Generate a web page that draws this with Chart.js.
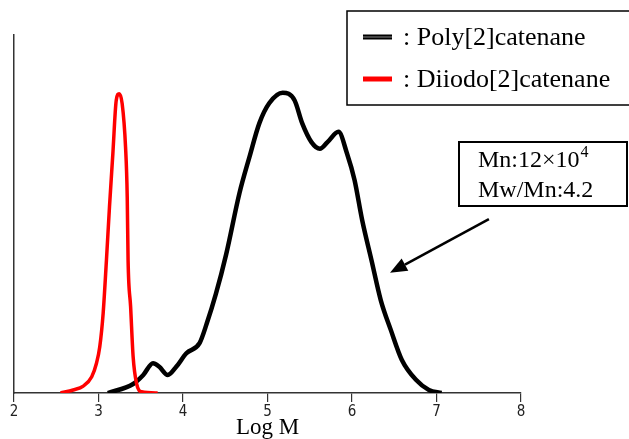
<!DOCTYPE html>
<html lang="en">
<head>
    <meta charset="UTF-8">
    <script src="https://cdn.jsdelivr.net/npm/chart.js@4.4.1/dist/chart.umd.min.js"></script>
    <title>GPC</title>
    <style>
        body { margin: 0; background: #ffffff; }
        .chart-container { position: relative; width: 629px; height: 439px; }
    </style>
</head>
<body>
    <div class="chart-container">
        <canvas id="myChart"></canvas>
    </div>

    <script>
        // x ticks (Log M)
        const xTicks = [2, 3, 4, 5, 6, 7, 8];

        // Poly[2]catenane trace
        const polyLogM = [3.11, 3.41, 3.53, 3.645, 3.72, 3.82, 3.92, 4.04, 4.196, 4.28, 4.39, 4.51, 4.668, 4.786, 4.904,
            5.02, 5.18, 5.32, 5.41, 5.52, 5.62, 5.71, 5.84, 5.94, 6.03, 6.12, 6.23, 6.34, 6.46, 6.59, 6.76, 6.91, 7.06];
        const polyHeight = [0.0, 0.03, 0.06, 0.099, 0.087, 0.06, 0.087, 0.132, 0.166, 0.23, 0.33, 0.46, 0.664, 0.784, 0.897,
            0.963, 0.998, 0.973, 0.897, 0.834, 0.812, 0.834, 0.868, 0.797, 0.708, 0.575, 0.442, 0.309, 0.209, 0.110, 0.043, 0.010, 0.0];

        // Diiodo[2]catenane trace
        const diiodoLogM = [2.55, 2.70, 2.82, 2.92, 2.976, 3.015, 3.055, 3.094, 3.13, 3.17, 3.21, 3.245, 3.28, 3.32, 3.34,
            3.35, 3.38, 3.41, 3.45, 3.51, 3.70];
        const diiodoHeight = [0.0, 0.01, 0.023, 0.054, 0.099, 0.154, 0.265, 0.442, 0.619, 0.796, 0.973, 0.995, 0.962, 0.818, 0.652,
            0.442, 0.287, 0.12, 0.032, 0.004, 0.0];

        const seriesNames = ['Poly[2]catenane', 'Diiodo[2]catenane'];
        const noteLines = ['Mn:12\u00d710', 'Mw/Mn:4.2'];

        const toPoints = (xs, ys) => xs.map((x, i) => ({ x: x, y: ys[i] }));

        const data = {
            datasets: [{
                label: seriesNames[0],
                data: toPoints(polyLogM, polyHeight),
                borderColor: '#000000',
                backgroundColor: '#000000',
                borderWidth: 4.5,
                pointRadius: 0,
                tension: 0.4,
                cubicInterpolationMode: 'monotone',
                order: 1
            },
            {
                label: seriesNames[1],
                data: toPoints(diiodoLogM, diiodoHeight),
                borderColor: '#ff0000',
                backgroundColor: '#ff0000',
                borderWidth: 3.5,
                pointRadius: 0,
                tension: 0.3,
                cubicInterpolationMode: 'monotone',
                order: 0
            }]
        };

        // legend box, note box and arrow
        const decorations = {
            id: 'decorations',
            afterDraw(chart) {
                const ctx = chart.ctx;
                const xs = chart.scales.x, ys = chart.scales.y;
                ctx.save();

                // legend
                ctx.strokeStyle = '#000';
                ctx.lineWidth = 1.5;
                ctx.strokeRect(347, 11, 300, 94);
                ctx.lineCap = 'butt';
                ctx.lineWidth = 5;
                ctx.strokeStyle = '#000';
                ctx.beginPath(); ctx.moveTo(363, 37); ctx.lineTo(392, 37); ctx.stroke();
                ctx.lineWidth = 1;
                ctx.strokeStyle = '#888';
                ctx.beginPath(); ctx.moveTo(363, 37); ctx.lineTo(392, 37); ctx.stroke();
                ctx.lineWidth = 5;
                ctx.strokeStyle = '#ff0000';
                ctx.beginPath(); ctx.moveTo(363, 79); ctx.lineTo(392, 79); ctx.stroke();

                ctx.fillStyle = '#000';
                ctx.font = '26px "Liberation Serif", "Times New Roman", serif';
                ctx.textBaseline = 'alphabetic';
                ctx.fillText(': ' + chart.data.datasets[0].label, 403, 45);
                ctx.fillText(': ' + chart.data.datasets[1].label, 403, 87);

                // note box
                ctx.lineWidth = 2;
                ctx.strokeStyle = '#000';
                ctx.strokeRect(459, 142, 168, 64);
                ctx.font = '24px "Liberation Serif", "Times New Roman", serif';
                ctx.fillText(noteLines[0], 478, 167);
                const w = ctx.measureText(noteLines[0]).width;
                ctx.font = '16px "Liberation Serif", "Times New Roman", serif';
                ctx.fillText('4', 478 + w + 1, 157);
                ctx.font = '24px "Liberation Serif", "Times New Roman", serif';
                ctx.fillText(noteLines[1], 478, 197);

                // arrow pointing at the curve
                const tx = xs.getPixelForValue(6.45), ty = ys.getPixelForValue(0.40);
                const sx = xs.getPixelForValue(7.62), sy = ys.getPixelForValue(0.578);
                const ang = Math.atan2(ty - sy, tx - sx);
                const hl = 17, hw = 7;
                const bx = tx - hl * Math.cos(ang), by = ty - hl * Math.sin(ang);
                ctx.lineWidth = 2.5;
                ctx.beginPath(); ctx.moveTo(sx, sy); ctx.lineTo(bx, by); ctx.stroke();
                ctx.beginPath();
                ctx.moveTo(tx, ty);
                ctx.lineTo(bx + hw * Math.sin(ang), by - hw * Math.cos(ang));
                ctx.lineTo(bx - hw * Math.sin(ang), by + hw * Math.cos(ang));
                ctx.closePath();
                ctx.fill();

                ctx.restore();
            }
        };

        const options = {
            responsive: true,
            maintainAspectRatio: false,
            animation: false,
            layout: {
                padding: { left: 14, right: 108, top: 35, bottom: 0 }
            },
            scales: {
                x: {
                    type: 'linear',
                    min: xTicks[0],
                    max: xTicks[xTicks.length - 1],
                    afterBuildTicks: function(scale) {
                        scale.ticks = xTicks.map(v => ({ value: v }));
                    },
                    afterFit: function(scale) { scale.height = 46; },
                    grid: {
                        display: true,
                        drawOnChartArea: false,
                        drawTicks: true,
                        tickLength: 9,
                        color: '#333',
                        lineWidth: 1.2
                    },
                    border: { display: true, color: '#333', width: 1.5 },
                    ticks: {
                        color: '#222',
                        padding: 1,
                        maxRotation: 0,
                        font: { family: '"Liberation Sans Narrow", "DejaVu Sans Condensed", sans-serif', size: 15 }
                    },
                    title: {
                        display: true,
                        text: 'Log M',
                        color: '#000',
                        padding: 0,
                        font: { family: '"Liberation Serif", "Times New Roman", serif', size: 23, lineHeight: 1 }
                    }
                },
                y: {
                    min: 0,
                    max: 1.19,
                    afterFit: function(scale) { scale.width = 0; },
                    grid: { display: false, drawTicks: false },
                    border: { display: true, color: '#333', width: 1.5 },
                    ticks: { display: false }
                }
            },
            plugins: {
                legend: { display: false },
                tooltip: { enabled: false }
            }
        };

        const config = {
            type: 'line',
            data: data,
            options: options,
            plugins: [decorations]
        };

        var myChart = new Chart(document.getElementById('myChart'), config);
    </script>
</body>
</html>
